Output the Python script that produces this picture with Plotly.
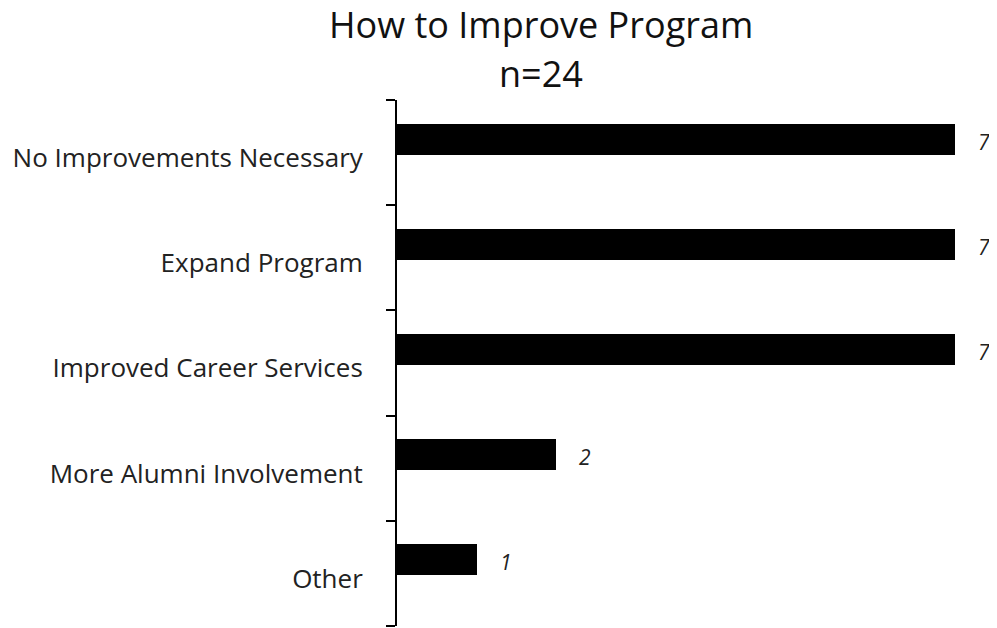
import plotly.graph_objects as go

# veriler
categories = ["No Improvements Necessary", "Expand Program", "Improved Career Services",
              "More Alumni Involvement", "Other"]
counts = [7, 7, 7, 2, 1]
title_line1 = "How to Improve Program"
title_line2 = "n=24"

FONT = "Open Sans"

# kategori konumları (sayısal eksen; etiketler hafif aşağıda, çentikler sınırlarda)
positions = list(range(len(categories)))

fig = go.Figure()
fig.add_trace(go.Bar(
    y=positions, x=counts, orientation="h",
    marker=dict(color="black", line=dict(width=0)),
    width=0.295, offset=-0.276,
    customdata=categories, hovertemplate="%{customdata}: %{x}<extra></extra>",
))

# değer etiketleri (italik, barın sağında)
for pos, val in zip(positions, counts):
    fig.add_annotation(
        x=val, y=pos, xref="x", yref="y", text=str(val), showarrow=False,
        xanchor="center", yanchor="middle", xshift=29, yshift=11,
        font=dict(family=FONT, size=21, color="#222222", style="italic"),
    )

# başlık (iki satır) - piksel konumları paper koordinatına çevrildi
title_x = (541 - 397) / 570
for line, py in [(title_line1, 24), (title_line2, 74)]:
    fig.add_annotation(text=line, xref="paper", yref="paper",
                       x=title_x, y=(626 - py) / 526, xanchor="center", yanchor="middle",
                       showarrow=False, font=dict(family=FONT, size=36, color="#111111"))

# sayfa gövdesinin 8px kenar boşluğu için boyutlar 8px küçültüldü
fig.update_layout(
    width=989, height=620,
    margin=dict(l=389, r=30, t=92, b=2, autoexpand=False),
    plot_bgcolor="white", paper_bgcolor="white",
    showlegend=False, bargap=0,
    font=dict(family=FONT, size=26, color="#222222"),
)
fig.update_xaxes(range=[0, 570 / 79.7], visible=False, showgrid=False, zeroline=False)
fig.update_yaxes(
    range=[len(categories) - 0.5, -0.5],
    showline=True, linecolor="black", linewidth=2,
    tickmode="array", tickvals=[p + 0.05 for p in positions], ticktext=categories,
    ticks="", ticklabelstandoff=27,
    minor=dict(ticks="outside", tick0=-0.5, dtick=1, ticklen=9, tickwidth=2,
               tickcolor="black", showgrid=False),
    showgrid=False, zeroline=False, automargin=False,
    tickfont=dict(family=FONT, size=26, color="#222222"),
)

fig.write_html("out.html")
